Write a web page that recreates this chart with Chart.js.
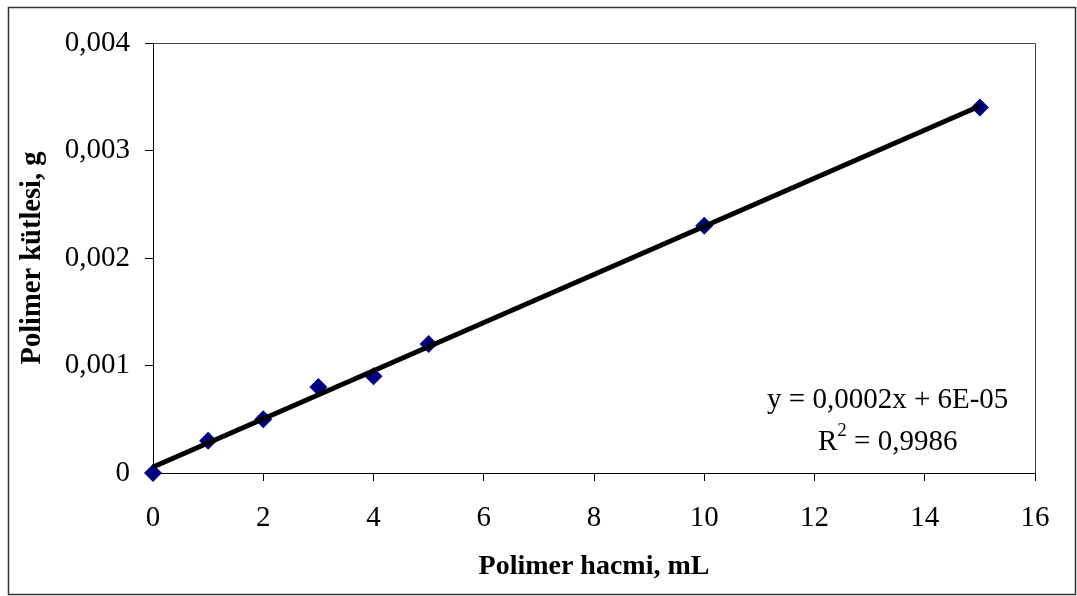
<!DOCTYPE html>
<html>
<head>
<meta charset="utf-8">
<script src="https://cdn.jsdelivr.net/npm/chart.js@4.4.1/dist/chart.umd.min.js"></script>
<style>
  html, body { margin: 0; padding: 0; background: #fff; }
  #wrap { width: 1077px; height: 596px; position: relative; }
</style>
</head>
<body>
<div id="wrap"><canvas id="c"></canvas></div>
<script>
// ---- data ----
const xValues = [0, 1, 2, 3, 4, 5, 10, 15];
const yValues = [0, 0.0003, 0.0005, 0.0008, 0.0009, 0.0012, 0.0023, 0.0034];
const trendX = [0, 15];
const trendY = [0.000056, 0.003414];
const xTicks = [0, 2, 4, 6, 8, 10, 12, 14, 16];
const yTicks = [0, 0.001, 0.002, 0.003, 0.004];
const yTickLabels = ['0', '0,001', '0,002', '0,003', '0,004'];
const xTitle = 'Polimer hacmi, mL';
const yTitle = 'Polimer kütlesi, g';
const eqLine1 = 'y = 0,0002x + 6E-05';
const eqLine2a = 'R';
const eqLine2sup = '2';
const eqLine2b = ' = 0,9986';

const FONT = "'Liberation Serif', 'Times New Roman', serif";

const scatterPts = xValues.map((x, i) => ({ x: x, y: yValues[i] }));
const trendPts = trendX.map((x, i) => ({ x: x, y: trendY[i] }));

const decor = {
  id: 'decor',
  beforeDraw(chart) {
    const ctx = chart.ctx;
    ctx.save();
    ctx.fillStyle = '#fff';
    ctx.fillRect(0, 0, chart.width, chart.height);
    ctx.strokeStyle = '#333';
    ctx.lineWidth = 1.5;
    ctx.strokeRect(8.5, 7.5, 1067, 587);
    ctx.restore();
  },
  afterDatasetsDraw(chart) {
    const ctx = chart.ctx;
    const a = chart.chartArea;
    ctx.save();
    // plot area border (top & right)
    ctx.strokeStyle = '#444';
    ctx.lineWidth = 1;
    ctx.beginPath();
    ctx.moveTo(a.left, a.top + 0.5);
    ctx.lineTo(a.right + 0.5, a.top + 0.5);
    ctx.lineTo(a.right + 0.5, a.bottom);
    ctx.stroke();
    // regression label
    ctx.fillStyle = '#000';
    ctx.textBaseline = 'middle';
    ctx.font = '29px ' + FONT;
    const cx = a.left + (a.right - a.left) * 0.833;
    const y1 = a.top + (a.bottom - a.top) * 0.83;
    const y2 = a.top + (a.bottom - a.top) * 0.928;
    ctx.textAlign = 'center';
    ctx.fillText(eqLine1, cx, y1);
    // second line with superscript
    ctx.textAlign = 'left';
    const wR = ctx.measureText(eqLine2a).width;
    const wB = ctx.measureText(eqLine2b).width;
    ctx.font = '19px ' + FONT;
    const wS = ctx.measureText(eqLine2sup).width;
    const total = wR + wS + wB;
    let x = cx - total / 2;
    ctx.font = '29px ' + FONT;
    ctx.fillText(eqLine2a, x, y2);
    x += wR;
    ctx.font = '19px ' + FONT;
    ctx.fillText(eqLine2sup, x, y2 - 11);
    x += wS;
    ctx.font = '29px ' + FONT;
    ctx.fillText(eqLine2b, x, y2);
    ctx.restore();
  }
};

new Chart(document.getElementById('c'), {
  type: 'scatter',
  data: {
    datasets: [
      {
        label: 'trend',
        data: trendPts,
        showLine: true,
        borderColor: '#000',
        borderWidth: 5,
        pointRadius: 0,
        pointHoverRadius: 0,
        clip: false,
        order: 1
      },
      {
        label: 'data',
        data: scatterPts,
        pointStyle: 'rectRot',
        pointRadius: 9,
        pointHoverRadius: 9,
        backgroundColor: '#000080',
        borderColor: '#000080',
        borderWidth: 0,
        clip: false,
        order: 2
      }
    ]
  },
  options: {
    responsive: true,
    maintainAspectRatio: false,
    animation: false,
    events: [],
    layout: { padding: { top: 43, right: 42, left: 0, bottom: 0 } },
    plugins: { legend: { display: false }, tooltip: { enabled: false } },
    scales: {
      x: {
        type: 'linear',
        min: 0, max: 16,
        afterBuildTicks(s) { s.ticks = xTicks.map(v => ({ value: v })); },
        afterFit(s) { s.height = 123; },
        grid: { drawOnChartArea: false, tickLength: 8, color: '#000', tickColor: '#000' },
        border: { color: '#000', width: 1 },
        ticks: {
          color: '#000',
          padding: 20,
          maxRotation: 0,
          font: { family: FONT, size: 29 },
          callback: v => String(v)
        },
        title: {
          display: true, text: xTitle, color: '#000',
          font: { family: FONT, size: 28, weight: 'bold' },
          padding: { top: 0, bottom: 12 }
        }
      },
      y: {
        type: 'linear',
        min: 0, max: 0.004,
        afterBuildTicks(s) { s.ticks = yTicks.map(v => ({ value: v })); },
        afterFit(s) { s.width = 153; },
        grid: { drawOnChartArea: false, tickLength: 8, color: '#000', tickColor: '#000' },
        border: { color: '#000', width: 1 },
        ticks: {
          color: '#000',
          padding: 15,
          font: { family: FONT, size: 29 },
          callback: (v) => { const i = yTicks.findIndex(t => Math.abs(t - v) < 1e-9); return i >= 0 ? yTickLabels[i] : ''; }
        },
        title: {
          display: true, text: yTitle, color: '#000',
          font: { family: FONT, size: 28.5, weight: 'bold' },
          padding: { top: 16, bottom: 0 }
        }
      }
    }
  },
  plugins: [decor]
});
</script>
</body>
</html>
